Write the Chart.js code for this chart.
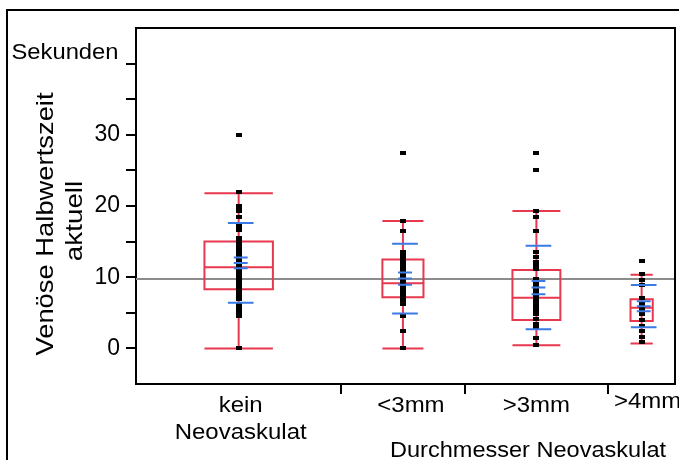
<!DOCTYPE html>
<html>
<head>
<meta charset="utf-8">
<script src="https://cdn.jsdelivr.net/npm/chart.js@4"></script>
<style>
  body { margin: 0; background: #fff; }
  canvas { display: block; }
</style>
</head>
<body>
<canvas id="boxChart" width="679" height="460"></canvas>
<script>
// groups along the x axis
const categories = [['kein', 'Neovaskulat'], '<3mm', '>3mm', '>4mm'];

// single observations (seconds) per group
const keinValues = [30.0, 21.9, 20.0, 19.7, 19.3, 18.5, 17.4, 17.0, 16.6, 15.5, 15.0, 14.4, 14.1, 13.7,
    13.3, 12.9, 12.5, 12.2, 11.8, 11.5, 11.2, 10.9, 10.6, 10.3, 10.0, 9.7, 9.4, 9.1, 8.8, 8.5,
    8.1, 7.7, 7.3, 6.9, 6.1, 5.7, 5.3, 4.9, 4.5, 0];
const under3Values = [27.5, 17.9, 16.5, 13.6, 13.1, 12.7, 12.2, 11.6, 11.1, 10.7, 10.1, 9.7,
    9.3, 8.9, 8.5, 8.1, 7.7, 7.3, 6.9, 6.6, 6.3, 4.5, 2.5, 0];
const over3Values = [27.5, 25.0, 19.3, 18.5, 16.5, 13.6, 12.8, 12.2, 11.7, 11.2, 9.7, 9.3, 8.9, 8.5,
    8.1, 7.7, 7.3, 6.9, 6.5, 6.1, 5.7, 5.3, 4.9, 4.1, 3.4, 2.8, 1.4, 0.5];
const over4Values = [12.3, 10.4, 9.6, 8.9, 7.1, 6.3, 5.6, 4.8, 4.0, 3.2, 2.4, 1.6, 0.9];
const groupValues = [keinValues, under3Values, over3Values, over4Values];

// box plot summary per group
const whiskerLow = [0, 0, 0.45, 0.7];
const boxQ1 = [8.3, 7.2, 4.0, 3.85];
const boxMedian = [11.4, 9.15, 7.1, 5.7];
const boxQ3 = [15.0, 12.5, 11.0, 6.9];
const whiskerHigh = [21.8, 17.9, 19.3, 10.35];

// means, std dev, std error per group
const groupMeans = [12.0, 9.8, 8.55, 5.93];
const groupSD = [5.6, 4.9, 5.87, 2.97];
const groupSE = [0.75, 0.85, 0.93, 0.7];
const grandMean = 9.75;

const yTickLabels = [0, 10, 20, 30];

const fontFamily = "'Liberation Sans', Arial, sans-serif";

const groupN = groupValues.map(v => v.length);
const totalN = groupN.reduce((a, b) => a + b, 0);
const groupStart = groupN.map((n, i) => groupN.slice(0, i).reduce((a, b) => a + b, 0));
const groupCenter = groupStart.map((s, i) => s + groupN[i] / 2);

function seg(list, x1, y1, x2, y2) {
    list.push({x: x1, y: y1}, {x: x2, y: y2}, {x: x2, y: null});
}

const redLines = [];
const blueLines = [];
groupCenter.forEach((c, i) => {
    const h = groupN[i] / 6;
    seg(redLines, c, whiskerLow[i], c, whiskerHigh[i]);
    seg(redLines, c - h, whiskerLow[i], c + h, whiskerLow[i]);
    seg(redLines, c - h, whiskerHigh[i], c + h, whiskerHigh[i]);
    redLines.push({x: c, y: boxQ1[i]}, {x: c + h, y: boxQ1[i]}, {x: c + h, y: boxQ3[i]},
        {x: c - h, y: boxQ3[i]}, {x: c - h, y: boxQ1[i]}, {x: c, y: boxQ1[i]}, {x: c, y: null});
    seg(redLines, c - h, boxMedian[i], c + h, boxMedian[i]);

    const bc = c + 0.4;
    const m = groupMeans[i];
    seg(blueLines, bc - 2.5, m + groupSD[i], bc + 2.5, m + groupSD[i]);
    seg(blueLines, bc - 2.5, m - groupSD[i], bc + 2.5, m - groupSD[i]);
    seg(blueLines, bc - 1.35, m, bc + 1.35, m);
    seg(blueLines, bc - 1.35, m + groupSE[i], bc + 1.35, m + groupSE[i]);
    seg(blueLines, bc - 1.35, m - groupSE[i], bc + 1.35, m - groupSE[i]);
});

const points = [];
groupValues.forEach((vals, i) => vals.forEach(v => points.push({x: groupCenter[i], y: v})));

// small black marker like the original
const dot = document.createElement('canvas');
dot.width = 6;
dot.height = 4;
dot.getContext('2d').fillRect(0, 0, 6, 4);

function drawStretched(ctx, text, x, y, sx, rot) {
    ctx.save();
    ctx.translate(x, y);
    if (rot) ctx.rotate(rot);
    ctx.scale(sx, 1);
    ctx.fillText(text, 0, 0);
    ctx.restore();
}

const frameAndText = {
    id: 'frameAndText',
    afterDraw(chart) {
        const ctx = chart.ctx;
        const a = chart.chartArea;
        const xs = chart.scales.x;
        ctx.save();
        ctx.strokeStyle = '#000';
        ctx.lineWidth = 2;
        ctx.strokeRect(7, 10, 700, 480);
        ctx.beginPath();
        ctx.moveTo(a.left, a.top);
        ctx.lineTo(a.right, a.top);
        ctx.lineTo(a.right, a.bottom);
        ctx.stroke();

        ctx.fillStyle = '#000';
        ctx.textAlign = 'center';
        ctx.textBaseline = 'alphabetic';
        ctx.font = '22px ' + fontFamily;
        drawStretched(ctx, 'Sekunden', 65, 59, 1.08);

        const dx = [2, 8, 0, 6];
        const base = [412, 412, 412, 408];
        categories.forEach((lab, i) => {
            const px = xs.getPixelForValue(groupCenter[i]) + dx[i];
            const lines = Array.isArray(lab) ? lab : [lab];
            lines.forEach((t, j) => drawStretched(ctx, t, px, base[i] + j * 27, 1.09));
        });
        drawStretched(ctx, 'Durchmesser Neovaskulat', 528, 457, 1.07);

        ctx.font = '24px ' + fontFamily;
        drawStretched(ctx, 'Venöse Halbwertszeit', 53, 224, 1.14, -Math.PI / 2);
        drawStretched(ctx, 'aktuell', 82, 221, 1.16, -Math.PI / 2);
        ctx.restore();
    }
};

new Chart(document.getElementById('boxChart'), {
    type: 'scatter',
    data: {
        datasets: [
            {
                type: 'line',
                data: blueLines,
                borderColor: '#3a7ae4',
                borderWidth: 2,
                pointRadius: 0,
                spanGaps: false,
                order: 0
            },
            {
                data: points,
                pointStyle: dot,
                pointRadius: 3,
                backgroundColor: '#000',
                borderWidth: 0,
                order: 1
            },
            {
                type: 'line',
                data: redLines,
                borderColor: '#e8384f',
                borderWidth: 2,
                borderCapStyle: 'butt',
                borderJoinStyle: 'miter',
                pointRadius: 0,
                spanGaps: false,
                order: 2
            },
            {
                type: 'line',
                data: [{x: 0, y: grandMean}, {x: totalN, y: grandMean}],
                borderColor: '#8c8c8c',
                borderWidth: 2,
                pointRadius: 0,
                order: 3
            }
        ]
    },
    options: {
        responsive: false,
        animation: false,
        layout: { padding: { top: 28, right: 4, left: 0, bottom: 0 } },
        plugins: {
            legend: { display: false },
            tooltip: { enabled: false }
        },
        scales: {
            x: {
                type: 'linear',
                min: 0,
                max: totalN,
                afterBuildTicks: s => { s.ticks = groupStart.slice(1).map(v => ({value: v})); },
                afterFit: s => { s.height = 76; },
                border: { color: '#000', width: 2 },
                grid: { drawOnChartArea: false, tickLength: 10, lineWidth: 2, color: '#000' },
                ticks: { autoSkip: false, callback: () => '' }
            },
            y: {
                min: -5,
                max: 45,
                afterFit: s => { s.width = 136; },
                border: { color: '#000', width: 2 },
                grid: {
                    drawOnChartArea: false,
                    tickLength: 10,
                    lineWidth: 2,
                    color: c => (c.tick && (c.tick.value < 0 || c.tick.value > 40)) ? 'rgba(0,0,0,0)' : '#000'
                },
                ticks: {
                    stepSize: 5,
                    autoSkip: false,
                    padding: 6,
                    color: '#000',
                    font: { family: fontFamily, size: 23 },
                    callback: v => yTickLabels.includes(v) ? String(v) : ''
                }
            }
        }
    },
    plugins: [frameAndText]
});
</script>
</body>
</html>
